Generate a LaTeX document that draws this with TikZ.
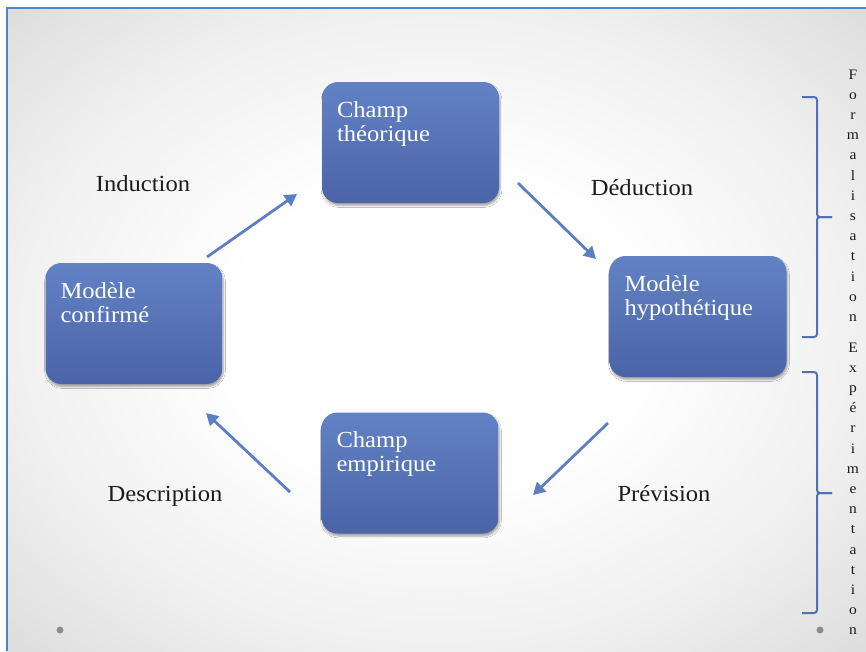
\documentclass[tikz,border=0pt]{standalone}
\usepackage{fontspec}
\setmainfont{Liberation Serif}[FakeStretch=1.07]
\usetikzlibrary{arrows.meta,shadows.blur}
\definecolor{boxtop}{RGB}{98,130,197}
\definecolor{boxbot}{RGB}{74,100,166}
\definecolor{arr}{RGB}{92,127,194}
\definecolor{frameblue}{RGB}{82,132,206}
\definecolor{bracecol}{RGB}{82,112,182}
\definecolor{txt}{RGB}{28,28,28}
\pgfdeclareradialshading{bgshade}{\pgfpoint{0bp}{0bp}}{color(0bp)=(white); color(12bp)=(white); color(25bp)=(black!6); color(35bp)=(black!13); color(50bp)=(black!13)}
\begin{document}
\begin{tikzpicture}[x=1pt,y=-1pt,
  box/.style={rounded corners=16pt, top color=boxtop, bottom color=boxbot, draw=none,
    minimum width=177pt, minimum height=121pt, inner sep=0pt, inner xsep=15pt,
    text=white, font=\fontsize{23}{24}\selectfont,
    blur shadow={shadow xshift=1pt,shadow yshift=-2.5pt,shadow blur steps=6,shadow opacity=35}},
  lbl/.style={font=\fontsize{23}{24}\selectfont, text=txt, inner sep=0pt, anchor=base},
  conn/.style={draw=arr, line width=2.8pt, -{Triangle[length=12pt,width=13pt]}},
  vert/.style={font=\fontsize{14.5}{15}\selectfont, text=txt, inner sep=0pt, anchor=base},
  bracestyle/.style={draw=bracecol, line width=2pt, rounded corners=3pt}]
\useasboundingbox (0,0) rectangle (866,651);
\fill[white] (0,0) rectangle (866,651);
\shade[shading=bgshade] (7,8) rectangle (866,651);
\draw[frameblue, line width=2pt] (866,8) -- (7,8) -- (7,651);

% boxes
\node[box] (theo) at (410.5,142.5) {\parbox[t][121pt][t]{147pt}{\raggedright\rule{0pt}{35pt}Champ\\théorique}};
\node[box] (hyp) at (698,316.5) {\parbox[t][121pt][t]{147pt}{\raggedright\rule{0pt}{35pt}Modèle\\hypothétique}};
\node[box] (emp) at (410,473) {\parbox[t][121pt][t]{147pt}{\raggedright\rule{0pt}{35pt}Champ\\empirique}};
\node[box] (conf) at (134,323.5) {\parbox[t][121pt][t]{147pt}{\raggedright\rule{0pt}{35pt}Modèle\\confirmé}};

% connector ends
\coordinate (ia) at (207,257);
\coordinate (ib) at (297,194);
\coordinate (da) at (518,183);
\coordinate (db) at (596,259);
\coordinate (pa) at (608,423);
\coordinate (pb) at (533,495);
\coordinate (sa) at (290,492);
\coordinate (sb) at (206,413);
\draw[conn] (ia) -- (ib);
\draw[conn] (da) -- (db);
\draw[conn] (pa) -- (pb);
\draw[conn] (sa) -- (sb);

% labels
\node[lbl] (lind) at (143,191) {Induction};
\node[lbl] (lded) at (642,195) {Déduction};
\node[lbl] (lpre) at (664,501) {Prévision};
\node[lbl] (ldes) at (165,501) {Description};

% braces
\draw[bracestyle] (802,97) -- (817,97) -- (817,217) -- (832,217);
\draw[bracestyle] (832,217) -- (817,217) -- (817,337) -- (802,337);
\draw[bracestyle] (802,372) -- (817,372) -- (817,493) -- (832,493);
\draw[bracestyle] (832,493) -- (817,493) -- (817,613) -- (802,613);

% vertical texts
\foreach \l [count=\i from 0] in {F,o,r,m,a,l,i,s,a,t,i,o,n}
  \node[vert] at (853,79+20.2*\i) {\l};
\foreach \l [count=\i from 0] in {E,x,p,é,r,i,m,e,n,t,a,t,i,o,n}
  \node[vert] at (853,352+20.2*\i) {\l};

% dots
\fill[black!45] (60,630) circle (3.5pt);
\fill[black!45] (820,630) circle (3.5pt);
\end{tikzpicture}
\end{document}
